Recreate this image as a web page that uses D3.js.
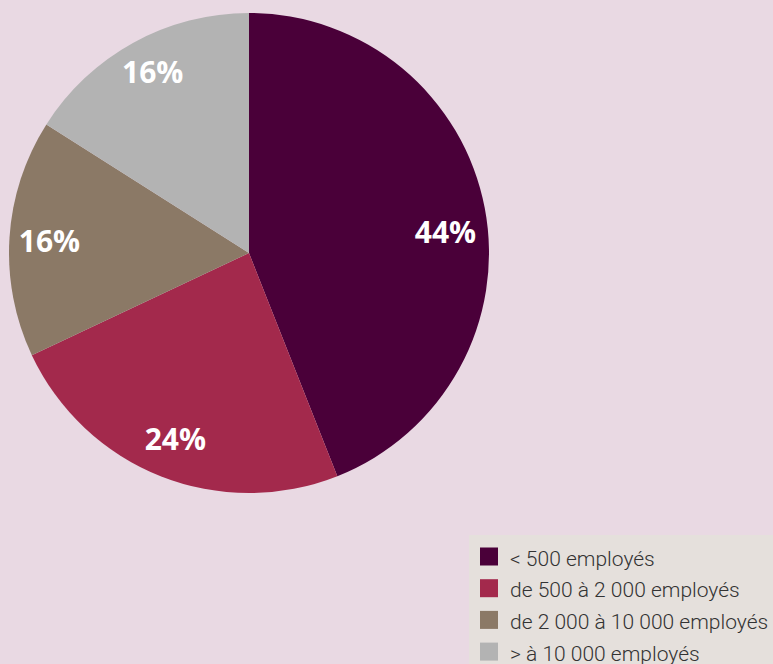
<!DOCTYPE html>
<html lang="fr">
<head>
<meta charset="utf-8">
<script src="https://cdn.jsdelivr.net/npm/d3@7"></script>
<style>
  html, body { margin: 0; padding: 0; background: #e9d9e3; overflow: hidden; }
  svg { display: block; }
</style>
</head>
<body>
<svg id="chart" width="773" height="664"></svg>
<script>
// Répartition des entreprises par taille (effectif)
const categories = ["< 500 employés", "de 500 à 2 000 employés", "de 2 000 à 10 000 employés", "> à 10 000 employés"];
const values = [44, 24, 16, 16];
const colors = ["#4a0039", "#a3294c", "#8b7966", "#b3b3b3"];

const W = 773, H = 664;
const cx = 249, cy = 253, radius = 240;

const svg = d3.select("#chart");
svg.append("rect").attr("width", W).attr("height", H).attr("fill", "#e9d9e3");

const pie = d3.pie().sort(null).value(d => d)(values);
const arc = d3.arc().innerRadius(0).outerRadius(radius);
const labelArc = d3.arc().innerRadius(200).outerRadius(200);

const g = svg.append("g").attr("transform", `translate(${cx},${cy})`);

g.selectAll("path.slice")
  .data(pie)
  .join("path")
  .attr("class", "slice")
  .attr("d", arc)
  .attr("fill", (d, i) => colors[i]);

// small vertical nudges so each label sits comfortably inside its slice
const labelNudge = [16, 0, 0, -6];

g.selectAll("text.pct")
  .data(pie)
  .join("text")
  .attr("class", "pct")
  .attr("transform", (d, i) => {
    const [x, y] = labelArc.centroid(d);
    return `translate(${x},${y + labelNudge[i]})`;
  })
  .attr("text-anchor", "middle")
  .attr("dominant-baseline", "central")
  .attr("fill", "#ffffff")
  .style("font-family", "'Open Sans', sans-serif")
  .style("font-weight", 700)
  .style("font-size", "30px")
  .text(d => d.data + "%");

// Legend panel
const legend = svg.append("g").attr("transform", "translate(469,535)");
legend.append("rect")
  .attr("width", W - 469)
  .attr("height", H - 535)
  .attr("fill", "#e5e0dc");

const rowY = d3.scaleBand().domain(d3.range(categories.length)).range([12.5, 12.5 + 31.7 * 4]);

const rows = legend.selectAll("g.row")
  .data(categories)
  .join("g")
  .attr("class", "row")
  .attr("transform", (d, i) => `translate(11,${rowY(i)})`);

rows.append("rect")
  .attr("width", 18)
  .attr("height", 18)
  .attr("fill", (d, i) => colors[i]);

rows.append("text")
  .attr("x", 30)
  .attr("y", 18)
  .attr("fill", "#333333")
  .style("font-family", "Roboto, sans-serif")
  .style("font-weight", 300)
  .style("font-size", "21px")
  .text(d => d);
</script>
</body>
</html>
